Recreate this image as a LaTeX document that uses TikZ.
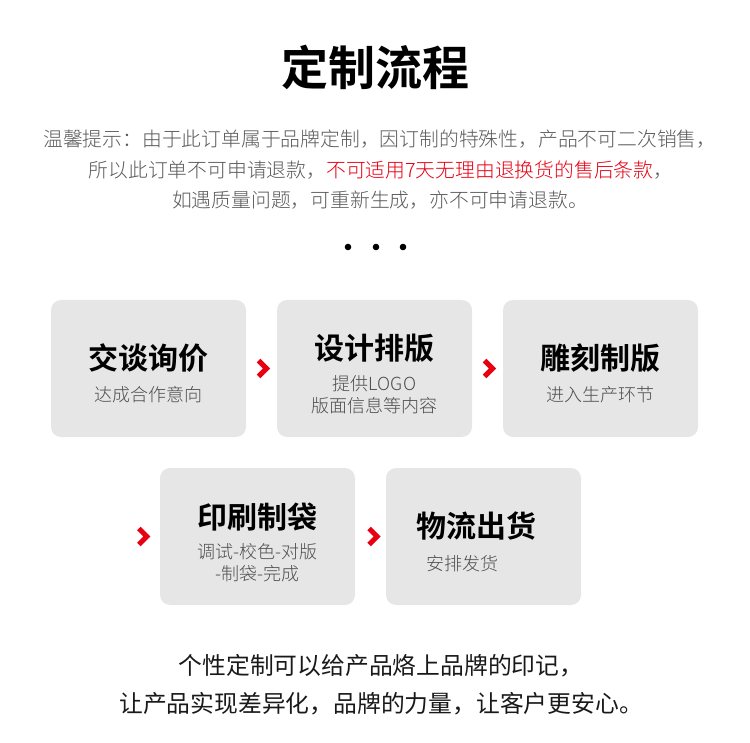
\documentclass[tikz,border=0pt]{standalone}
\usepackage{fontspec}
\setmainfont{Noto Sans CJK SC}[BoldFont={Noto Sans CJK SC Bold}]
\newfontfamily\lightcjk{Noto Sans CJK SC Light}
\usepackage{xcolor}
\usetikzlibrary{calc,positioning}

\definecolor{cardgray}{HTML}{E6E6E6}
\definecolor{markred}{HTML}{E60012}
\definecolor{notegray}{HTML}{595959}
\definecolor{subgray}{HTML}{4D4D4D}

\tikzset{
  card/.style={fill=cardgray, rounded corners=10pt, minimum width=195pt, minimum height=137pt, inner sep=0pt},
  cardtitle/.style={font=\bfseries\fontsize{30}{34}\selectfont, text=black, inner sep=0pt},
  cardnote/.style={font=\lightcjk\fontsize{18}{22}\selectfont, text=subgray, align=center, inner sep=0pt},
  notice/.style={font=\lightcjk\fontsize{19.8}{24}\selectfont, text=notegray, inner sep=0pt},
  closing/.style={font=\fontsize{23.8}{28}\selectfont, text=black!90, inner sep=0pt},
  chevron/.style={draw=markred, line width=5pt, line join=miter},
}

\begin{document}
\begin{tikzpicture}[x=1pt, y=-1pt]
    % y runs downwards, units are pixels of the 750x743 sheet
    \useasboundingbox (0,0) rectangle (750,743);
    \node[font=\bfseries\fontsize{47}{52}\selectfont, inner sep=0pt] (head) at (375,67) {定制流程};
    \node[notice] (n1) at (380,139) {温馨提示：由于此订单属于品牌定制，因订制的特殊性，产品不可二次销售，};
    \node[notice] (n2) at (381,170) {所以此订单不可申请退款，\textcolor{markred}{不可适用7天无理由退换货的售后条款}，};
    \node[notice] (n3) at (380,200) {如遇质量问题，可重新生成，亦不可申请退款。};
    \foreach \x in {348,376,403}{\fill (\x,247) circle (3.3pt);}

    \node[card] (c1) at (148.5,368.5) {};
    \node[card] (c2) at (374.5,368.5) {};
    \node[card] (c3) at (600.5,368.5) {};
    \node[card] (c4) at (257.5,536.5) {};
    \node[card] (c5) at (483.5,536.5) {};

    \node[cardtitle] (t1) at ($(c1.center)+(0,-10.5)$) {交谈询价};
    \node[cardnote]  (s1) at ($(c1.center)+(0,26.5)$) {达成合作意向};
    \node[cardtitle] (t2) at ($(c2.center)+(0,-20.5)$) {设计排版};
    \node[cardnote]  (s2) at ($(c2.center)+(0,26.5)$) {提供LOGO\\版面信息等内容};
    \node[cardtitle] (t3) at ($(c3.center)+(0,-10.5)$) {雕刻制版};
    \node[cardnote]  (s3) at ($(c3.center)+(0,26.5)$) {进入生产环节};
    \node[cardtitle] (t4) at ($(c4.center)+(0,-19.5)$) {印刷制袋};
    \node[cardnote]  (s4) at ($(c4.center)+(0,26.5)$) {调试-校色-对版\\-制袋-完成};
    \node[cardtitle] (t5) at ($(c5.center)+(-7,-10.5)$) {物流出货};
    \node[cardnote]  (s5) at ($(c5.center)+(-21,27)$) {安排发货};

    % red marks between the cards
    \draw[chevron] ($(c1.east)!0.55!(c2.west)$) ++(-4.5,-8) -- ++(8,8) -- ++(-8,8);
    \draw[chevron] ($(c2.east)!0.55!(c3.west)$) ++(-4.5,-8) -- ++(8,8) -- ++(-8,8);
    \draw[chevron] ($(c4.west)+(-16.5,0)$) ++(-4.5,-8) -- ++(8,8) -- ++(-8,8);
    \draw[chevron] ($(c4.east)!0.6!(c5.west)$) ++(-4.5,-8) -- ++(8,8) -- ++(-8,8);

    \node[closing] (e1) at (381,666) {个性定制可以给产品烙上品牌的印记，};
    \node[closing] (e2) at (381,704) {让产品实现差异化，品牌的力量，让客户更安心。};
\end{tikzpicture}
\end{document}
